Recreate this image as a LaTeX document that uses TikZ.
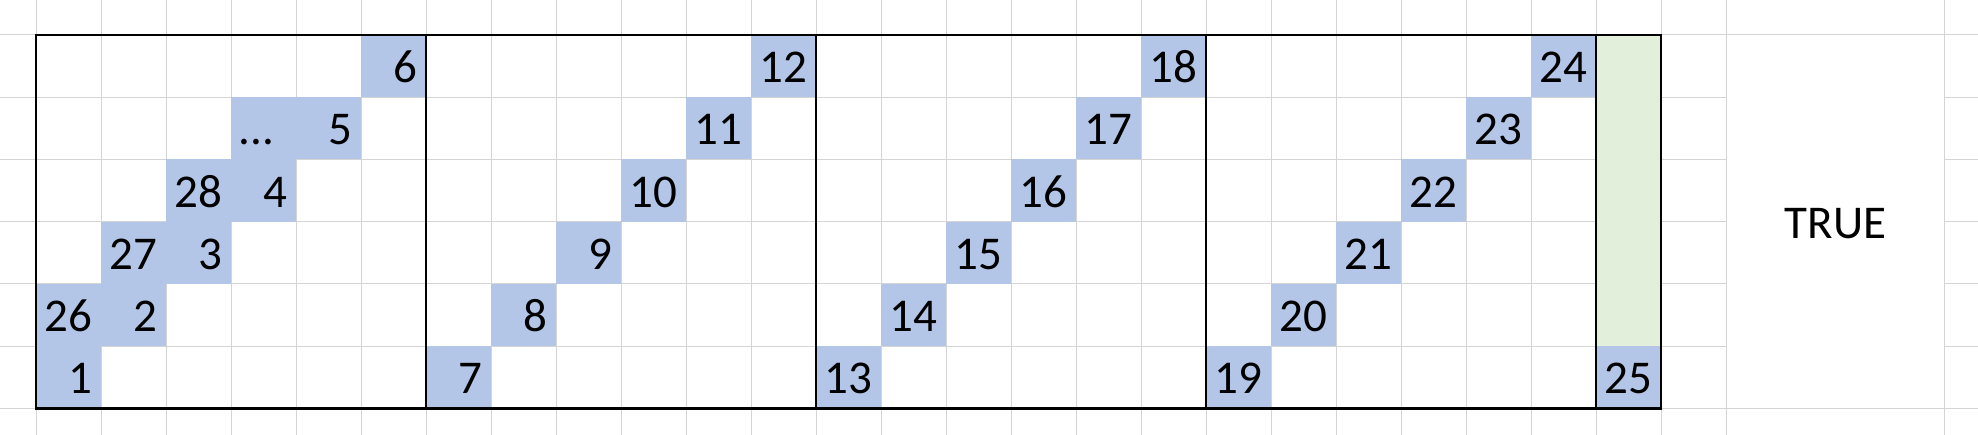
\documentclass[tikz,border=0pt]{standalone}
\usepackage{fontspec}
\setmainfont{Carlito}
\definecolor{cellblue}{HTML}{B4C6E7}
\definecolor{cellgreen}{HTML}{E2EFDA}
\definecolor{gridgray}{HTML}{D4D4D4}

\begin{document}
\begin{tikzpicture}[x=32.5pt,y=-31.15pt,
  grid/.style={gridgray,line width=.5pt},
  frame/.style={line width=1.1pt},
  num/.style={anchor=base east,inner sep=0pt,font=\fontsize{23.5}{28}\selectfont},
  txt/.style={anchor=base west,inner sep=0pt,font=\fontsize{23.5}{28}\selectfont}]
\useasboundingbox (-.554,-.557) rectangle (29.877,6.425);
% sheet grid
\foreach \x in {0,...,26} \draw[grid] (\x,-.557) -- (\x,6.425);
\draw[grid] (29.365,-.557) -- (29.365,6.425);
\draw[grid] (-.554,0) -- (29.877,0);
\draw[grid] (-.554,6) -- (29.877,6);
\foreach \y in {1,...,5} {
  \draw[grid] (-.554,\y) -- (26,\y);
  \draw[grid] (29.365,\y) -- (29.877,\y);
}
% diagonals
\foreach \b in {0,...,3}
  \foreach \k in {0,...,5} {
    \pgfmathtruncatemacro\v{6*\b+\k+1}
    \fill[cellblue] (6*\b+\k,5-\k) rectangle ++(1,1);
    \node[num] (n\v) at (6*\b+\k+.877,5.767-\k) {\v};
  }
\foreach \k in {0,1,2} {
  \pgfmathtruncatemacro\v{26+\k}
  \fill[cellblue] (\k,4-\k) rectangle ++(1,1);
  \node[num] (n\v) at (\k+.877,4.767-\k) {\v};
}
\fill[cellblue] (3,1) rectangle ++(1,1);
\node[txt] (dots) at (3.11,1.767) {...};
% last column
\fill[cellgreen] (24,0) rectangle (25,5);
\fill[cellblue] (24,5) rectangle (25,6);
\node[num] (n25) at (24.877,5.767) {25};
\node[anchor=base,inner sep=0pt,font=\fontsize{23.5}{28}\selectfont] (true) at (27.688,3.279) {TRUE};
% block frames
\foreach \b in {0,...,3} \draw[frame] (6*\b,0) rectangle ++(6,6);
\draw[frame] (24,0) rectangle (25,6);
\end{tikzpicture}
\end{document}
